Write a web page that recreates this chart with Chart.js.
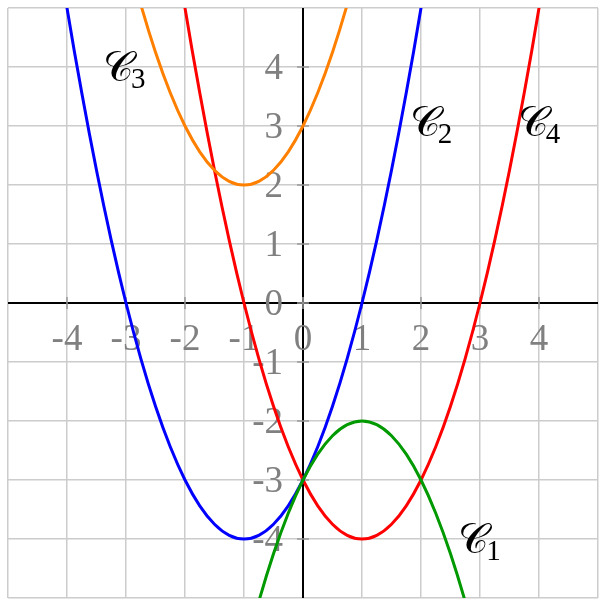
<!DOCTYPE html>
<html>
<head>
<meta charset="utf-8">
<script src="https://cdn.jsdelivr.net/npm/chart.js@4"></script>
<style>
    html, body { margin: 0; padding: 0; background: #fff; }
    #wrap { width: 607px; height: 607px; }
</style>
</head>
<body>
<div id="wrap"><canvas id="myChart"></canvas></div>
<script>
// curve samples
const c1X = [-1, -0.75, -0.5, -0.25, 0, 0.25, 0.5, 0.75, 1, 1.25, 1.5, 1.75, 2, 2.25, 2.5, 2.75, 3];
const c1Y = [-6, -5.0625, -4.25, -3.5625, -3, -2.5625, -2.25, -2.0625, -2, -2.0625, -2.25, -2.5625, -3, -3.5625, -4.25, -5.0625, -6];

const c2X = [-4.5, -4.25, -4, -3.75, -3.5, -3.25, -3, -2.75, -2.5, -2.25, -2, -1.75, -1.5, -1.25, -1, -0.75, -0.5, -0.25, 0, 0.25, 0.5, 0.75, 1, 1.25, 1.5, 1.75, 2, 2.25, 2.5];
const c2Y = [8.25, 6.5625, 5, 3.5625, 2.25, 1.0625, 0, -0.9375, -1.75, -2.4375, -3, -3.4375, -3.75, -3.9375, -4, -3.9375, -3.75, -3.4375, -3, -2.4375, -1.75, -0.9375, 0, 1.0625, 2.25, 3.5625, 5, 6.5625, 8.25];

const c3X = [-3, -2.75, -2.5, -2.25, -2, -1.75, -1.5, -1.25, -1, -0.75, -0.5, -0.25, 0, 0.25, 0.5, 0.75, 1];
const c3Y = [6, 5.0625, 4.25, 3.5625, 3, 2.5625, 2.25, 2.0625, 2, 2.0625, 2.25, 2.5625, 3, 3.5625, 4.25, 5.0625, 6];

const c4X = [-2.5, -2.25, -2, -1.75, -1.5, -1.25, -1, -0.75, -0.5, -0.25, 0, 0.25, 0.5, 0.75, 1, 1.25, 1.5, 1.75, 2, 2.25, 2.5, 2.75, 3, 3.25, 3.5, 3.75, 4, 4.25, 4.5];
const c4Y = [8.25, 6.5625, 5, 3.5625, 2.25, 1.0625, 0, -0.9375, -1.75, -2.4375, -3, -3.4375, -3.75, -3.9375, -4, -3.9375, -3.75, -3.4375, -3, -2.4375, -1.75, -0.9375, 0, 1.0625, 2.25, 3.5625, 5, 6.5625, 8.25];

const tickValues = [-4, -3, -2, -1, 0, 1, 2, 3, 4];
const xTickLabels = ["-4", "-3", "-2", "-1", "0", "1", "2", "3", "4"];
const yTickLabels = ["-4", "-3", "-2", "-1", "0", "1", "2", "3", "4"];

const curveNames = ["1", "2", "3", "4"];
// where each name sits (left edge, baseline), in graph units
const nameX = [2.63, 1.81, -3.39, 3.64];
const nameY = [-4.24, 2.83, 3.76, 2.83];

const toPoints = (xs, ys) => xs.map((x, i) => ({ x: x, y: ys[i] }));

const serif = '"Liberation Serif", "DejaVu Serif", serif';

// axes, small ticks and grey numbers under the curves
const axesPlugin = {
    id: "axesPlugin",
    beforeDatasetsDraw(chart) {
        const { ctx, chartArea, scales } = chart;
        const x0 = scales.x.getPixelForValue(0);
        const y0 = scales.y.getPixelForValue(0);
        ctx.save();

        ctx.strokeStyle = "#000";
        ctx.lineWidth = 2;
        ctx.beginPath();
        ctx.moveTo(chartArea.left, y0);
        ctx.lineTo(chartArea.right, y0);
        ctx.moveTo(x0, chartArea.top);
        ctx.lineTo(x0, chartArea.bottom);
        ctx.stroke();

        ctx.strokeStyle = "#999";
        ctx.lineWidth = 1.5;
        ctx.beginPath();
        tickValues.forEach((v) => {
            const px = scales.x.getPixelForValue(v);
            const py = scales.y.getPixelForValue(v);
            ctx.moveTo(px, y0 - 6);
            ctx.lineTo(px, y0 + 6);
            ctx.moveTo(x0 - 6, py);
            ctx.lineTo(x0 + 6, py);
        });
        ctx.stroke();

        ctx.fillStyle = "#808080";
        ctx.font = "37px " + serif;
        ctx.textBaseline = "middle";
        ctx.textAlign = "center";
        tickValues.forEach((v, i) => {
            ctx.fillText(xTickLabels[i], scales.x.getPixelForValue(v), y0 + 37);
        });
        ctx.textAlign = "right";
        tickValues.forEach((v, i) => {
            ctx.fillText(yTickLabels[i], x0 - 20, scales.y.getPixelForValue(v) + 2);
        });
        ctx.restore();
    },
    afterDatasetsDraw(chart) {
        const { ctx, scales } = chart;
        ctx.save();
        ctx.fillStyle = "#000";
        ctx.textBaseline = "alphabetic";
        ctx.textAlign = "left";
        curveNames.forEach((n, i) => {
            const px = scales.x.getPixelForValue(nameX[i]);
            const py = scales.y.getPixelForValue(nameY[i]);
            ctx.font = "42px " + serif;
            ctx.fillText("\u{1D49E}", px, py);
            const w = ctx.measureText("\u{1D49E}").width;
            ctx.font = "29px " + serif;
            ctx.fillText(n, px + w - 3, py + 7);
        });
        ctx.restore();
    },
};

const lineStyle = (color) => ({
    borderColor: color,
    backgroundColor: color,
    borderWidth: 3,
    pointRadius: 0,
    tension: 0.4,
    fill: false,
    clip: 0,
});

const ctx = document.getElementById("myChart").getContext("2d");

new Chart(ctx, {
    type: "line",
    data: {
        datasets: [
            { label: "C1", data: toPoints(c1X, c1Y), ...lineStyle("rgb(0,153,0)") },
            { label: "C2", data: toPoints(c2X, c2Y), ...lineStyle("#0000ff") },
            { label: "C3", data: toPoints(c3X, c3Y), ...lineStyle("rgb(255,128,0)") },
            { label: "C4", data: toPoints(c4X, c4Y), ...lineStyle("#ff0000") },
        ],
    },
    options: {
        responsive: true,
        maintainAspectRatio: false,
        animation: false,
        events: [],
        layout: { padding: { left: 8, right: 9, top: 8, bottom: 9 } },
        scales: {
            x: {
                type: "linear",
                min: -5,
                max: 5,
                ticks: { stepSize: 1, display: false },
                grid: { color: "#cccccc", lineWidth: 1.5, drawTicks: false },
                border: { display: false },
            },
            y: {
                type: "linear",
                min: -5,
                max: 5,
                ticks: { stepSize: 1, display: false },
                grid: { color: "#cccccc", lineWidth: 1.5, drawTicks: false },
                border: { display: false },
            },
        },
        plugins: {
            legend: { display: false },
            tooltip: { enabled: false },
        },
    },
    plugins: [axesPlugin],
});
</script>
</body>
</html>
